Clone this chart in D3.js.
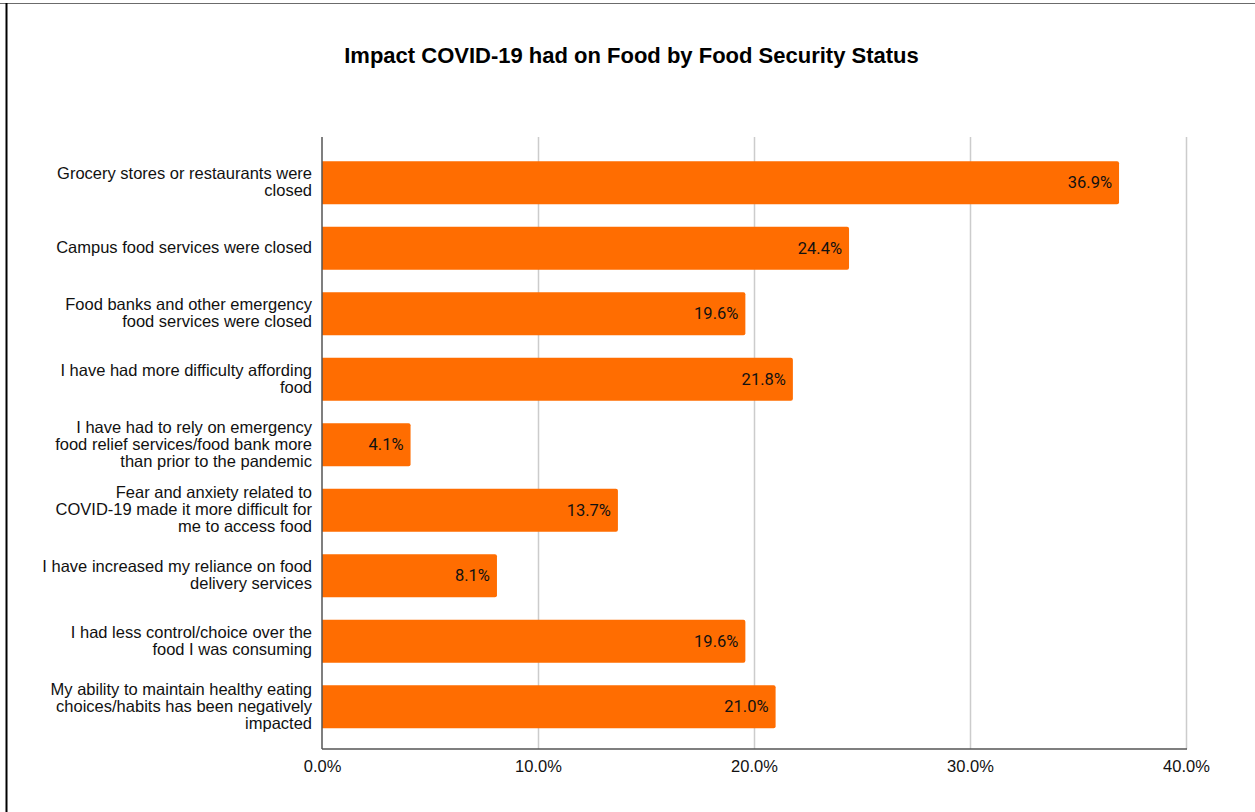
<!DOCTYPE html>
<html>
<head>
<meta charset="utf-8">
<script src="https://cdn.jsdelivr.net/npm/d3@7"></script>
<style>
  html, body { margin: 0; padding: 0; background: #fff; }
  svg { display: block; }
</style>
</head>
<body>
<svg id="chart" width="1255" height="812"></svg>
<script>
// Survey responses: share of respondents reporting each impact
const categories = [
  ["Grocery stores or restaurants were", "closed"],
  ["Campus food services were closed"],
  ["Food banks and other emergency", "food services were closed"],
  ["I have had more difficulty affording", "food"],
  ["I have had to rely on emergency", "food relief services/food bank more", "than prior to the pandemic"],
  ["Fear and anxiety related to", "COVID-19 made it more difficult for", "me to access food"],
  ["I have increased my reliance on food", "delivery services"],
  ["I had less control/choice over the", "food I was consuming"],
  ["My ability to maintain healthy eating", "choices/habits has been negatively", "impacted"]
];
const values = [36.9, 24.4, 19.6, 21.8, 4.1, 13.7, 8.1, 19.6, 21.0];
const xTicks = [0, 10, 20, 30, 40];
const titleText = "Impact COVID-19 had on Food by Food Security Status";

const svg = d3.select("#chart");
const W = 1255, H = 812;

// page frame
svg.append("line").attr("x1", 0).attr("x2", W).attr("y1", 3.5).attr("y2", 3.5)
  .attr("stroke", "#6b6b6b").attr("stroke-width", 1);
svg.append("line").attr("x1", 6.5).attr("x2", 6.5).attr("y1", 3).attr("y2", H)
  .attr("stroke", "#000").attr("stroke-width", 2);

const left = 322, right = 1186, gridTop = 137, axisY = 749;

const x = d3.scaleLinear().domain([0, 40]).range([left, right]);
const y = d3.scaleBand().domain(d3.range(values.length)).range([150, 739.5]).paddingInner(0.344).paddingOuter(0.172);

// title
svg.append("text")
  .attr("x", 631.5).attr("y", 63)
  .attr("text-anchor", "middle")
  .attr("font-family", "Liberation Sans, Arial, sans-serif")
  .attr("font-weight", "bold")
  .attr("font-size", 22)
  .attr("fill", "#000")
  .text(titleText);

// vertical gridlines
svg.append("g").selectAll("line").data(xTicks.filter(d => d > 0)).join("line")
  .attr("x1", d => x(d) + 0.5).attr("x2", d => x(d) + 0.5)
  .attr("y1", gridTop).attr("y2", axisY)
  .attr("stroke", "#cccccc").attr("stroke-width", 1.5);

// bars
svg.append("g").selectAll("path").data(values).join("path")
  .attr("fill", "#ff6d01")
  .attr("d", (d, i) => {
    const x0 = x(0), x1 = x(d), y0 = y(i), h = y.bandwidth(), r = 2;
    return `M${x0},${y0}H${x1 - r}Q${x1},${y0} ${x1},${y0 + r}V${y0 + h - r}Q${x1},${y0 + h} ${x1 - r},${y0 + h}H${x0}Z`;
  });

// value labels inside the bars
svg.append("g").selectAll("text").data(values).join("text")
  .attr("x", d => x(d) - 7)
  .attr("y", (d, i) => y(i) + y.bandwidth() / 2)
  .attr("dy", "0.34em")
  .attr("text-anchor", "end")
  .attr("font-family", "Roboto, Arial, sans-serif")
  .attr("font-size", 16.5)
  .attr("fill", "#111")
  .text(d => d.toFixed(1) + "%");

// category labels
const lineH = 16.8;
const catG = svg.append("g")
  .attr("font-family", "Liberation Sans, Arial, sans-serif")
  .attr("font-size", 16.5)
  .attr("fill", "#111")
  .attr("text-anchor", "end");
categories.forEach((lines, i) => {
  const cy = y(i) + y.bandwidth() / 2;
  const t = catG.append("text").attr("x", 312).attr("y", cy - (lines.length - 1) * lineH / 2);
  lines.forEach((ln, k) => {
    t.append("tspan").attr("x", 312).attr("dy", k === 0 ? "0.3em" : lineH).text(ln);
  });
});

// x axis
const xAxis = d3.axisBottom(x).tickValues(xTicks).tickSize(0).tickPadding(11)
  .tickFormat(d => d.toFixed(1) + "%");
const ax = svg.append("g").attr("transform", `translate(0,${axisY})`).call(xAxis);
ax.select(".domain").remove();
ax.selectAll("text")
  .attr("font-family", "Liberation Sans, Arial, sans-serif")
  .attr("font-size", 16.5)
  .attr("fill", "#111");

// axis lines
svg.append("line").attr("x1", left).attr("x2", right + 1).attr("y1", axisY).attr("y2", axisY)
  .attr("stroke", "#555").attr("stroke-width", 1.5);
svg.append("line").attr("x1", left).attr("x2", left).attr("y1", gridTop).attr("y2", axisY)
  .attr("stroke", "#555").attr("stroke-width", 1.5);
</script>
</body>
</html>
